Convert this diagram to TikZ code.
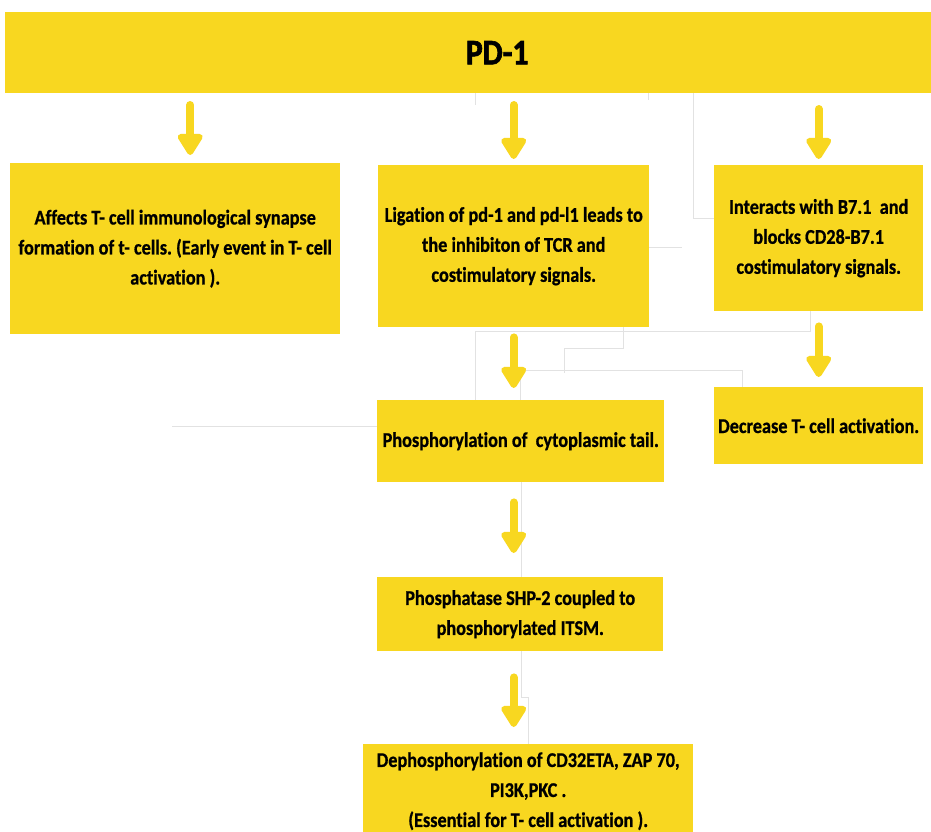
\documentclass[tikz,border=0pt]{standalone}
\usepackage{fontspec}
\setmainfont{Carlito}[Ligatures={NoCommon}]
\newfontfamily\boxfont{Carlito}[FakeStretch=0.87, FakeBold=0.7, Ligatures={NoCommon}]
\newfontfamily\titlefont{Carlito}[FakeStretch=0.88, FakeBold=1.8, Ligatures={NoCommon}]
\usetikzlibrary{arrows.meta,calc}
\definecolor{boxyellow}{RGB}{248,215,32}
\definecolor{guide}{RGB}{226,226,226}
\frenchspacing
\begin{document}
\begin{tikzpicture}[x=1pt,y=-1pt,
  yb/.style={fill=boxyellow, draw=none, inner sep=0pt, anchor=north west, align=center, text=black,
             font=\boxfont\bfseries\fontsize{21}{30}\selectfont},
  arr/.style={draw=boxyellow, line width=8pt, line cap=round,
              -{Triangle[width=28pt,length=24pt,round]}},
  guideline/.style={draw=guide, line width=0.7pt}]
\clip (0,0) rectangle (931,831);
\fill[white] (0,0) rectangle (931,831);
% faint guide lines
\draw[guideline] (475,93) -- (475,105);
\draw[guideline] (648,93) -- (648,100);
\draw[guideline] (693,93) -- (693,218) -- (714,218);
\draw[guideline] (649,247) -- (682,247);
\draw[guideline] (810,218) -- (810,331) -- (475,331) -- (475,400);
\draw[guideline] (623,327) -- (623,348) -- (564,348) -- (564,373);
\draw[guideline] (520,400) -- (520,370) -- (742,370) -- (742,387);
\draw[guideline] (521,482) -- (521,577);
\draw[guideline] (521,651) -- (521,697) -- (528,697) -- (528,744);
\draw[guideline] (172,426) -- (377,426);
% boxes
\node[yb, minimum width=984pt, minimum height=81pt, font=\titlefont\bfseries\fontsize{36}{40}\selectfont] (pd) at (5,12) {PD-1};
\node[yb, minimum width=330pt, minimum height=171pt] (b1) at (10,163)
  {Affects T- cell immunological synapse\\formation of t- cells. (Early event in T- cell\\activation ).};
\node[yb, minimum width=271pt, minimum height=162pt] (b2) at (378,165)
  {Ligation of pd-1 and pd-l1 leads to\\the inhibiton of TCR and\\costimulatory signals.};
\node[yb, minimum width=209pt, minimum height=146pt] (b3) at (714,165)
  {Interacts with B7.1~ and\\blocks CD28-B7.1\\costimulatory signals.};
\node[yb, minimum width=287pt, minimum height=82pt] (b4) at (377,400)
  {Phosphorylation of~ cytoplasmic tail.};
\node[yb, minimum width=209pt, minimum height=77pt] (b5) at (714,387)
  {Decrease T- cell activation.};
\node[yb, minimum width=286pt, minimum height=74pt] (b6) at (377,577)
  {Phosphatase SHP-2 coupled to\\phosphorylated ITSM.};
\node[yb, minimum width=330pt, minimum height=94pt] (b7) at (363,744)
  {Dephosphorylation of CD32ETA, ZAP 70,\\PI3K,PKC .\\(Essential for T- cell activation ).};
% arrows
\draw[arr] ($(b1.north)+(15,-58)$) -- ($(b1.north)+(15,-8)$);
\draw[arr] ($(b2.north)+(0,-60)$) -- ($(b2.north)+(0,-6)$);
\draw[arr] ($(b3.north)+(0,-56)$) -- ($(b3.north)+(0,-6)$);
\draw[arr] ($(b2.south)+(0,10)$) -- ($(b2.south |- b4.north)+(0,-12)$);
\draw[arr] ($(b3.south)+(0,15)$) -- ($(b5.north)+(0,-10)$);
\draw[arr] ($(b2.south |- b4.south)+(0,20)$) -- ($(b2.south |- b6.north)+(0,-24)$);
\draw[arr] ($(b2.south |- b6.south)+(0,26)$) -- ($(b2.south |- b7.north)+(0,-17)$);
\end{tikzpicture}
\end{document}
